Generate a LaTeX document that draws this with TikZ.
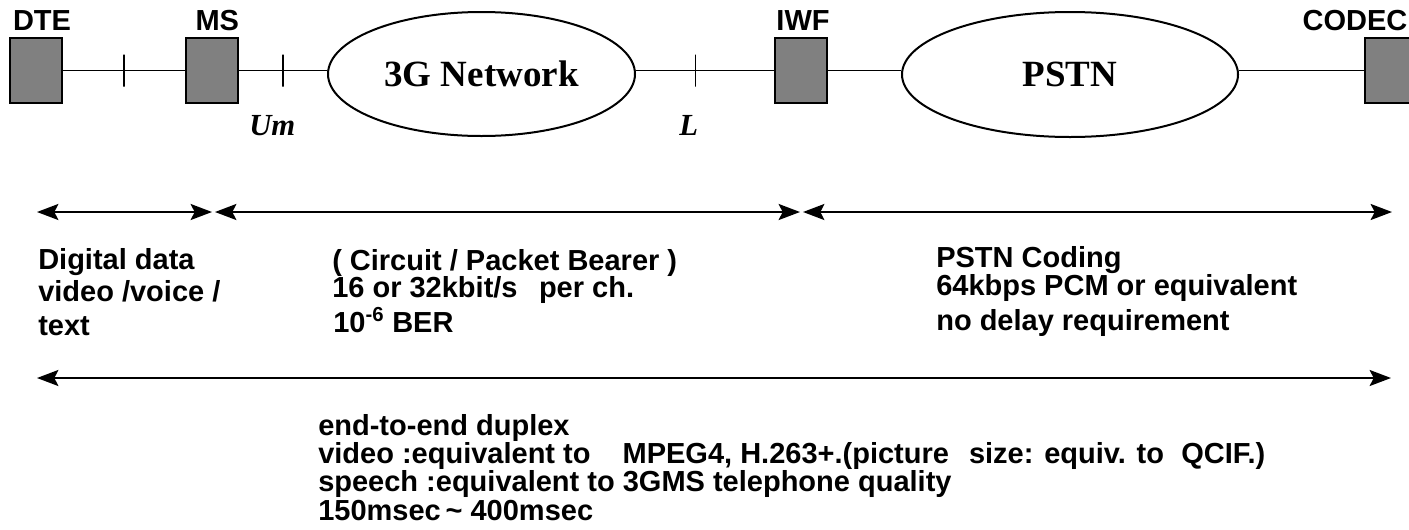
\documentclass[tikz,border=0pt]{standalone}
\usepackage{fontspec}
\setmainfont{Liberation Serif}
\setsansfont{Liberation Sans}
\usetikzlibrary{shapes.geometric, arrows.meta, positioning, calc}
\definecolor{boxgray}{RGB}{128, 128, 128}
\tikzstyle{unit} = [rectangle, minimum width=39pt, minimum height=48.75pt, inner sep=0pt, draw=black, line width=1.5pt, fill=boxgray]
\tikzstyle{cloud} = [ellipse, minimum width=230.25pt, minimum height=93pt, inner sep=0pt, draw=black, line width=1.5pt, fill=white, font=\fontsize{27.75}{30}\selectfont\bfseries]
\tikzstyle{link} = [line width=1.2pt]
\tikzstyle{tick} = [rectangle, draw=black, line width=1.2pt, minimum width=0pt, minimum height=24pt, inner sep=0pt]
\tikzstyle{iflabel} = [inner sep=0pt, font=\fontsize{23}{26}\selectfont\bfseries\itshape]
\tikzstyle{tag} = [inner sep=0pt, font=\sffamily\bfseries\fontsize{21.75}{26}\selectfont]
\tikzstyle{txt} = [inner sep=0pt, anchor=base west, font=\sffamily\bfseries\fontsize{21.75}{26}\selectfont]
\tikzstyle{span} = [line width=1.5pt, {Stealth[length=16pt,width=12pt,inset=3pt]}-{Stealth[length=16pt,width=12pt,inset=3pt]}]

\begin{document}
\begin{tikzpicture}[x=0.75pt, y=-0.75pt]
\useasboundingbox (0,0) rectangle (1409,529);

\node (dte) [unit, label={[tag, label distance=4.5pt, xshift=4.5pt]above:DTE}] at (36,70.5) {};
\node (ms) [unit, label={[tag, label distance=4.5pt, xshift=4pt]above:MS}] at (212,70.5) {};
\node (net) [cloud] at (481.5,74) {3G Network};
\node (iwf) [unit, label={[tag, label distance=4.5pt, xshift=1.5pt]above:IWF}] at (801,70.5) {};
\node (pstn) [cloud, minimum width=252pt, minimum height=93.75pt] at (1070,74.5) {PSTN};
\node (codec) [unit, label={[tag, label distance=4.5pt, xshift=-27pt]above:CODEC}] at (1391,70.5) {};

% Links
\draw [link] (dte) -- node[tick] (t1) {} (ms);
\draw [link] (ms.east) -- node[tick] (t2) {} (ms.east -| net.west);
\draw [link] (net.east |- iwf.west) -- node[tick, pos=0.43] (t3) {} (iwf.west);
\draw [link] (iwf.east) -- (iwf.east -| pstn.west);
\draw [link] (pstn.east |- codec.west) -- (codec.west);

\node (um) [iflabel, below=21pt of t2, xshift=-8pt] {Um};
\node (l) [iflabel, below=21pt of t3, xshift=-5pt] {L};

% Spans
\coordinate (a0) at (37,212);
\coordinate (a1) at (212,212);
\coordinate (a2) at (215,212);
\coordinate (a3) at (800,212);
\coordinate (a4) at (803,212);
\coordinate (a5) at (1392,212);
\coordinate (b0) at (37,378);
\coordinate (b1) at (1391,378);
\draw [span] (a0) -- (a1);
\draw [span] (a2) -- (a3);
\draw [span] (a4) -- (a5);
\draw [span] (b0) -- (b1);

% Texts
\node (dig1) [txt] at (38,269) {Digital data};
\node (dig2) [txt] at (38,301) {video /voice /};
\node (dig3) [txt] at (38,335) {text};

\node (bear1) [txt] at (332,270) {( Circuit / Packet Bearer )};
\node (bear2) [txt] at (332,297) {16 or 32kbit/s \hspace{10pt}per ch.};
\node (bear3) [txt] at (333,332) {10\textsuperscript{-6} BER};

\node (cod1) [txt] at (936,267) {PSTN Coding};
\node (cod2) [txt] at (936,295) {64kbps PCM or equivalent};
\node (cod3) [txt] at (936,330) {no delay requirement};

\node (e2e1) [txt] at (318,435) {end-to-end duplex};
\node (e2e2) [txt] at (318,463) {video :equivalent to \hspace{18pt}MPEG4, H.263+.(picture \hspace{9pt}size: equiv. to \hspace{7pt}QCIF.)};
\node (e2e3) [txt] at (318,491) {speech :equivalent to 3GMS telephone quality};
\node (e2e4) [txt] at (318,520) {150msec\,\textasciitilde\ 400msec};

\end{tikzpicture}
\end{document}
